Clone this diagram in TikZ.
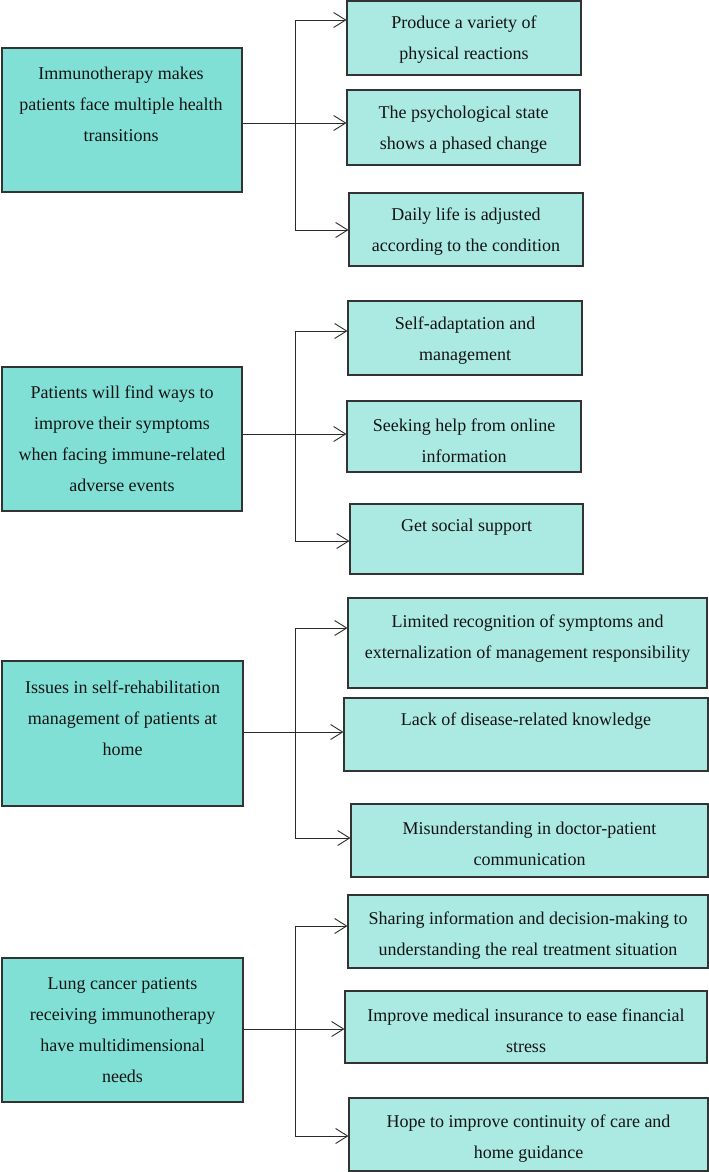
\documentclass[tikz,border=0pt]{standalone}
\usepackage{fontspec}
\setmainfont{Liberation Serif}
\usetikzlibrary{arrows.meta}
\definecolor{mainfill}{HTML}{80E0D6}
\definecolor{subfill}{HTML}{ABE9E3}
\definecolor{boxline}{HTML}{333333}
\definecolor{linecol}{HTML}{2A2A2A}
\definecolor{textcol}{HTML}{141414}
\begin{document}
\begin{tikzpicture}[x=1pt,y=-1pt,
  mainbox/.style={draw=boxline, fill=mainfill, line width=1.2pt, inner sep=0pt},
  subbox/.style={draw=boxline, fill=subfill, line width=1.1pt, inner sep=0pt},
  txt/.style={font=\fontsize{18}{31}\selectfont, align=center, inner sep=0pt, text=textcol},
  conn/.style={line width=0.9pt, draw=linecol},
  arr/.style={conn, -{Straight Barb[length=12pt,width=15pt,line width=0.9pt]}}]
\useasboundingbox (0,0) rectangle (709,1172);

% ---------- Group 1 ----------
\node[mainbox, minimum width=240pt, minimum height=144pt] (m1) at (122,120) {};
\node[txt] (m1t) at (121,104) {Immunotherapy makes\\patients face multiple health\\transitions};
\node[subbox, minimum width=234pt, minimum height=74pt] (c11) at (464,38) {};
\node[txt] (c11t) at (464,40) {Produce a variety of\\physical reactions};
\node[subbox, minimum width=233pt, minimum height=75pt] (c12) at (463.5,127.5) {};
\node[txt] (c12t) at (463.5,130) {The psychological state\\shows a phased change};
\node[subbox, minimum width=234pt, minimum height=73pt] (c13) at (466,229.5) {};
\node[txt] (c13t) at (466,232) {Daily life is adjusted\\according to the condition};
\coordinate (t1a) at (295,20);
\coordinate (t1b) at (295,123);
\coordinate (t1c) at (295,230);
\draw[conn] (m1.east |- t1b) -- (t1b);
\draw[conn] (t1a) -- (t1c);
\draw[arr] (t1a) -- (t1a -| c11.west);
\draw[arr] (t1b) -- (t1b -| c12.west);
\draw[arr] (t1c) -- (t1c -| c13.west);

% ---------- Group 2 ----------
\node[mainbox, minimum width=240pt, minimum height=144pt] (m2) at (122,439) {};
\node[txt] (m2t) at (122,439) {Patients will find ways to\\improve their symptoms\\when facing immune-related\\adverse events};
\node[subbox, minimum width=234pt, minimum height=74pt] (c21) at (465,338) {};
\node[txt] (c21t) at (465,341) {Self-adaptation and\\management};
\node[subbox, minimum width=234pt, minimum height=71pt] (c22) at (464,436.5) {};
\node[txt] (c22t) at (464,440.5) {Seeking help from online\\information};
\node[subbox, minimum width=233pt, minimum height=70pt] (c23) at (466.5,539) {};
\node[txt] (c23t) at (466.5,527) {Get social support};
\coordinate (t2a) at (295,331);
\coordinate (t2b) at (295,434);
\coordinate (t2c) at (295,541);
\draw[conn] (m2.east |- t2b) -- (t2b);
\draw[conn] (t2a) -- (t2c);
\draw[arr] (t2a) -- (t2a -| c21.west);
\draw[arr] (t2b) -- (t2b -| c22.west);
\draw[arr] (t2c) -- (t2c -| c23.west);

% ---------- Group 3 ----------
\node[mainbox, minimum width=241pt, minimum height=145pt] (m3) at (122.5,733.5) {};
\node[txt] (m3t) at (122.5,718) {Issues in self-rehabilitation\\management of patients at\\home};
\node[subbox, minimum width=359pt, minimum height=90pt] (c31) at (527.5,643) {};
\node[txt] (c31t) at (527.5,638.5) {Limited recognition of symptoms and\\externalization of management responsibility};
\node[subbox, minimum width=364pt, minimum height=73pt] (c32) at (526,734.5) {};
\node[txt] (c32t) at (526,721) {Lack of disease-related knowledge};
\node[subbox, minimum width=357pt, minimum height=73pt] (c33) at (529.5,840.5) {};
\node[txt] (c33t) at (529.5,843.5) {Misunderstanding in doctor-patient\\communication};
\coordinate (t3a) at (295,628);
\coordinate (t3b) at (295,732);
\coordinate (t3c) at (295,838);
\draw[conn] (m3.east |- t3b) -- (t3b);
\draw[conn] (t3a) -- (t3c);
\draw[arr] (t3a) -- (t3a -| c31.west);
\draw[arr] (t3b) -- (t3b -| c32.west);
\draw[arr] (t3c) -- (t3c -| c33.west);

% ---------- Group 4 ----------
\node[mainbox, minimum width=241pt, minimum height=144pt] (m4) at (122.5,1030) {};
\node[txt] (m4t) at (122.5,1030) {Lung cancer patients\\receiving immunotherapy\\have multidimensional\\needs};
\node[subbox, minimum width=360pt, minimum height=73pt] (c41) at (528,931.5) {};
\node[txt] (c41t) at (528,935.5) {Sharing information and decision-making to\\understanding the real treatment situation};
\node[subbox, minimum width=362pt, minimum height=72pt] (c42) at (526,1027) {};
\node[txt] (c42t) at (526,1030.5) {Improve medical insurance to ease financial\\stress};
\node[subbox, minimum width=359pt, minimum height=73pt] (c43) at (528.5,1134.5) {};
\node[txt] (c43t) at (528.5,1139) {Hope to improve continuity of care and\\home guidance};
\coordinate (t4a) at (295,926);
\coordinate (t4b) at (295,1029);
\coordinate (t4c) at (295,1136);
\draw[conn] (m4.east |- t4b) -- (t4b);
\draw[conn] (t4a) -- (t4c);
\draw[arr] (t4a) -- (t4a -| c41.west);
\draw[arr] (t4b) -- (t4b -| c42.west);
\draw[arr] (t4c) -- (t4c -| c43.west);
\end{tikzpicture}
\end{document}
